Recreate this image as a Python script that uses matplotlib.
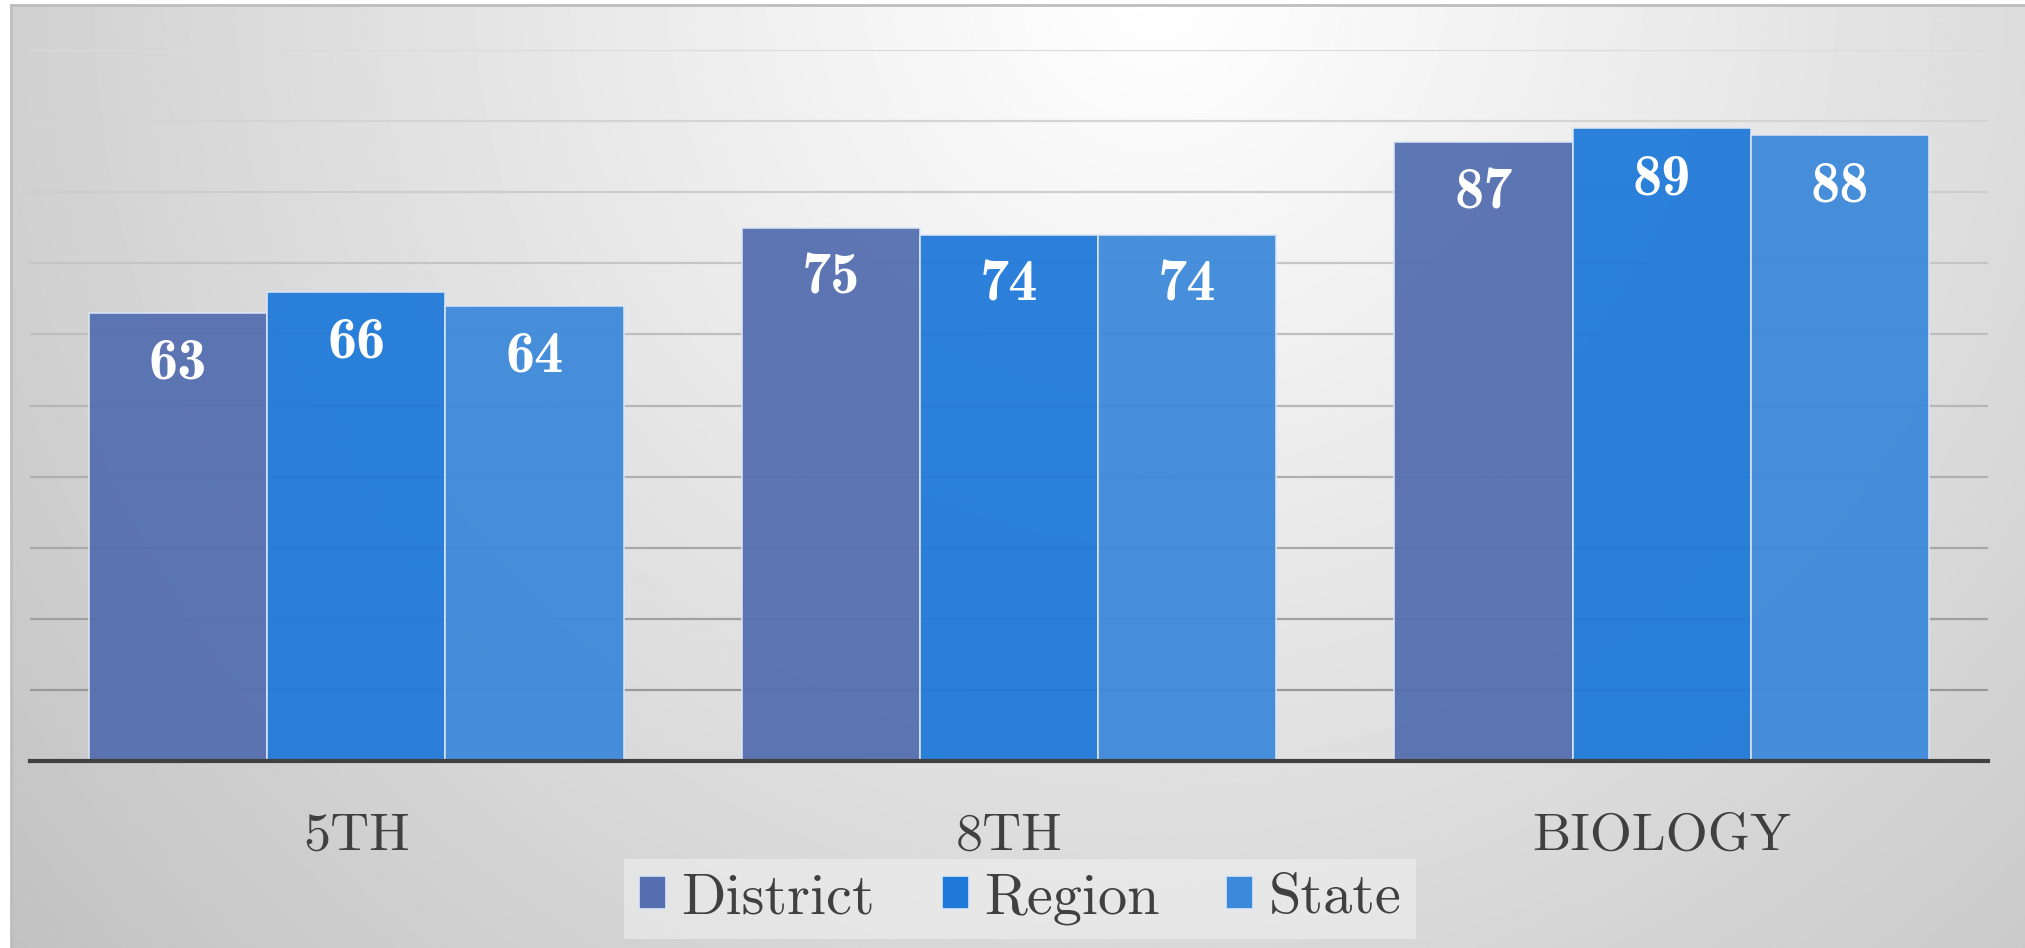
import numpy as np
import matplotlib
matplotlib.use("Agg")
import matplotlib.pyplot as plt
from matplotlib.patches import Patch

# Datos
categories = ["5TH", "8TH", "BIOLOGY"]
series = ["District", "Region", "State"]
district = [63, 75, 87]
region = [66, 74, 89]
state = [64, 74, 88]
values = [district, region, state]
colors = ["#546eb0", "#1f79d8", "#3c88da"]

W, H = 2025, 948
fig = plt.figure(figsize=(W / 100, H / 100), dpi=100)
fig.patch.set_facecolor("white")

# Fondo con degradado radial (panel gris)
bg = fig.add_axes([11 / W, 0, (W - 11) / W, (H - 5) / H], zorder=0)
yy, xx = np.mgrid[0:H, 0:W]
r = np.sqrt(((xx - 1150) / 1000.0) ** 2 + ((yy + 20) / 1000.0) ** 2)
shade = np.clip(255 - 40 * r ** 1.05, 190, 255) / 255.0
bg.imshow(shade, cmap="gray", vmin=0, vmax=1, aspect="auto", interpolation="bilinear")
bg.set_xticks([])
bg.set_yticks([])
for side in ["right", "bottom"]:
    bg.spines[side].set_visible(False)
for side in ["top", "left"]:
    bg.spines[side].set_color("#bdbdbd")
    bg.spines[side].set_linewidth(2)

# Eje principal
ax = fig.add_axes([30 / W, (H - 761) / H, (1988 - 30) / W, (761 - 50) / H], zorder=1)
ax.patch.set_alpha(0)

x = np.arange(len(categories))
bw = 0.273
for i, (name, vals) in enumerate(zip(series, values)):
    pos = x + (i - 1) * bw
    bars = ax.bar(pos, vals, width=bw, color=colors[i], alpha=0.94,
                  edgecolor="#dce6f4", linewidth=1.2, label=name, zorder=2)
    for b, v in zip(bars, vals):
        ax.annotate(str(v), (b.get_x() + b.get_width() / 2, v),
                    xytext=(0, -37), textcoords="offset points",
                    ha="center", va="center", color="white",
                    fontsize=42, family="cmb10", zorder=3)

ax.set_xlim(-0.5, 2.5)
ax.set_ylim(0, 100)
ax.set_yticks(np.arange(10, 101, 10))
ax.set_yticklabels([])
ax.tick_params(axis="y", length=0)
ax.grid(axis="y", linewidth=1.6, zorder=0)
ax.set_axisbelow(True)
# Las lineas de cuadricula se oscurecen hacia abajo
for gl, yv in zip(ax.get_ygridlines(), np.arange(10, 101, 10)):
    g = 0.60 + 0.26 * (yv - 10) / 90
    gl.set_color((g, g, g))

for side in ["top", "left", "right"]:
    ax.spines[side].set_visible(False)
ax.spines["bottom"].set_color("#404040")
ax.spines["bottom"].set_linewidth(3)
ax.spines["bottom"].set_zorder(4)

ax.set_xticks(x)
ax.set_xticklabels(categories, fontsize=39, family="cmr10", color="#404040")
ax.tick_params(axis="x", length=0, pad=37)

# Leyenda
leg = fig.legend(handles=[Patch(facecolor=c, edgecolor="#dce6f4", linewidth=1.2, label=s)
                          for c, s in zip(colors, series)],
                 loc="center", bbox_to_anchor=(1020 / W, (H - 899) / H), ncol=3,
                 prop={"family": "cmr10", "size": 42}, labelcolor="#404040",
                 frameon=True, fancybox=False, framealpha=0.55, facecolor="#f2f2f2",
                 edgecolor="none", handlelength=0.46, handleheight=0.48,
                 handletextpad=0.26, columnspacing=1.15, borderpad=0.25)

fig.savefig("out.png", dpi=100)
